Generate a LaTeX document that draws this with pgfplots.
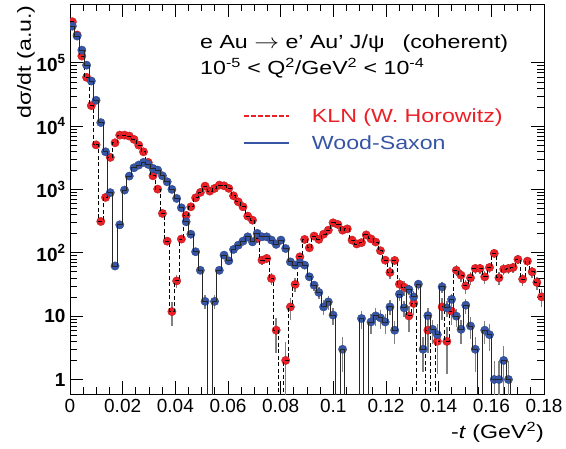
\documentclass[border=0pt]{standalone}
\usepackage{fontspec}
\setmainfont{Liberation Sans}
\newfontfamily\widefont[FakeStretch=1.22]{Liberation Sans}
\usepackage{pgfplots}
\pgfplotsset{compat=1.18}
\usepackage{pgfplotstable}
\definecolor{klnred}{RGB}{235,32,38}
\definecolor{wsblue}{RGB}{55,85,165}
\newcommand{\fs}{\fontsize{19bp}{22bp}\selectfont}
\newcommand{\wfs}{\widefont\fontsize{19bp}{22bp}\selectfont}

% bin index i: bin from 0.0018*i to 0.0018*(i+1); row i=100 closes the step line
% y = bin content (0.001 = empty bin, below the axis), e = error bar half length
\pgfplotstableread{
i y e
0 4.46e5 0
1 2.75e5 0
2 1.28e5 0
3 5.9e4 0
4 2.11e4 0
5 5070 0
6 313 24.8
7 750 0
8 3214 0
9 5470 0
10 7230 0
11 7230 0
12 6980 0
13 6185 0
14 5025 0
15 3940 0
16 2680 0
17 1646 0
18 1015 0
19 419 0
20 153 17.4
21 11.8 4.8
22 36 8.4
23 165 17.9
24 391 0
25 533 0
26 739 0
27 900 0
28 1132 0
29 944 0
30 1041 0
31 1174 0
32 1144 0
33 1041 0
34 795 0
35 639 0
36 533 0
37 380 27.3
38 328 25.3
39 168 18.2
40 76.7 12.3
41 81.6 12.6
42 39.4 8.8
43 6.0 3.4
44 0.001 0
45 2.0 1.98
46 14.0 5.2
47 31.7 7.8
48 86.5 13
49 163 17.9
50 120 15.4
51 184 19
52 163 17.9
53 197 19.6
54 228 21.1
55 298 24.2
56 281 23.5
57 228 21.1
58 239 21.7
59 159 17.6
60 138 16.4
61 145 16.8
62 192 19.5
63 166 18
64 148 17.1
65 108 14.6
66 76.7 12.3
67 49 9.8
68 75.8 12.2
69 32 8
70 28.7 7.6
71 10.1 4.5
72 15.9 5.6
73 0.001 0
74 0.001 0
75 6.0 3.4
76 0.001 0
77 4.0 2.8
78 14.0 5.2
79 4.0 2.8
80 12.0 4.8
81 53 10.2
82 44.4 9.4
83 30.1 7.7
84 40.3 8.8
85 56.7 10.5
86 56.7 10.5
87 41.8 9.1
88 58.8 10.8
89 98 13.9
90 40.3 8.8
91 55.3 10.4
92 56.7 10.5
93 58.8 10.8
94 78.7 12.5
95 38.4 8.7
96 74 12
97 50.1 9.9
98 34.1 8.1
99 20.2 6.3
100 20.2 0
}\kln

\pgfplotstableread{
i y e
0 3.8e5 0
1 2.65e5 0
2 1.59e5 0
3 9.2e4 0
4 5.16e4 0
5 2.56e4 0
6 1.14e4 0
7 3940 0
8 893 0
9 62 7.9
10 277 16.6
11 979 0
12 1629 0
13 2202 0
14 2430 0
15 2680 0
16 2494 0
17 2155 0
18 2026 0
19 1646 0
20 1324 0
21 1004 0
22 723 0
23 514 0
24 309 17.6
25 197 14
26 104 10.2
27 53 7.3
28 17.1 4.1
29 0.001 0
30 17.1 4.1
31 53 7.3
32 92 9.6
33 74.8 8.6
34 113 10.6
35 132 11.5
36 153 12.4
37 179 13.4
38 149 12.2
39 203 14.2
40 179 13.4
41 179 13.4
42 159 12.6
43 136 11.7
44 159 12.6
45 117 10.8
46 72 8.5
47 64 8
48 69.5 8.3
49 64 8
50 41.8 6.5
51 30.9 5.6
52 23.7 4.9
53 14.0 3.7
54 16.8 4.1
55 10.4 3.2
56 0.001 0
57 3.0 1.7
58 0.001 0
59 0.001 0
60 0.001 0
61 9.2 3
62 0.001 0
63 8.1 2.8
64 10.1 3.2
65 9.4 3.1
66 8.1 2.8
67 14.0 3.7
68 6.0 2.4
69 22.3 4.7
70 13.5 3.7
71 26.4 5.1
72 20.2 4.5
73 32 5.7
74 3.0 1.7
75 10.2 3.2
76 6.2 2.5
77 5.1 2.3
78 29 5.4
79 13.5 3.7
80 18.4 4.3
81 10 3.2
82 6.2 2.5
83 14.9 3.9
84 7.0 2.6
85 3.0 1.7
86 0.001 0
87 6.0 2.4
88 5.1 2.3
89 1 0.99
90 1 0.99
91 2 1.4
92 1 0.99
93 0.001 0
94 0.001 0
95 0.001 0
96 0.001 0
97 0.001 0
98 0.001 0
99 0.001 0
100 0.001 0
}\ws

\begin{document}
\begin{tikzpicture}
\begin{axis}[
  scale only axis, width=474bp, height=390bp,
  xmin=0, xmax=0.18, ymode=log, ymin=0.59, ymax=8.5e5,
  clip marker paths=true,
  axis line style={line width=0.9bp},
  tick align=inside,
  tick style={line width=0.8bp, black},
  major tick length=13bp, minor tick length=7bp,
  xtick={0,0.02,0.04,0.06,0.08,0.1,0.12,0.14,0.16,0.18},
  xticklabels={0,0.02,0.04,0.06,0.08,0.1,0.12,0.14,0.16,0.18},
  minor x tick num=3,
  ytick={1,10,100,1000,10000,100000},
  yticklabels={\textbf{1},\textbf{10},\textbf{10\textsuperscript{2}},\textbf{10\textsuperscript{3}},\textbf{10\textsuperscript{4}},\textbf{10\textsuperscript{5}}},
  ticklabel style={font=\fs},
  xticklabel style={yshift=-2bp},
  yticklabel style={xshift=-1bp},
  xlabel={-\textit{t} (GeV\textsuperscript{2})},
  xlabel style={font=\wfs, at={(rel axis cs:1,0)}, anchor=north east, yshift=-28bp, inner sep=0pt},
  ylabel={dσ/dt (a.u.)},
  ylabel style={font=\wfs, at={(rel axis cs:-0.0738,0.997)}, anchor=south east, inner sep=0pt},
  legend style={draw=none, fill=none, at={(rel axis cs:0.3654,0.738)}, anchor=north west, font=\wfs, row sep=8bp, inner sep=0pt,
     /tikz/every even column/.append style={column sep=0bp}},
  legend cell align=left,
  legend image code/.code={\draw[#1] (0bp,0bp) -- (45bp,0bp);},
]
\addlegendimage{klnred, dash pattern=on 4.5bp off 2.5bp, line width=1.3bp}
\addlegendentry{\hspace{20bp}\textcolor{klnred}{KLN (W. Horowitz)}}
\addlegendimage{wsblue, line width=1.6bp}
\addlegendentry{\hspace{20bp}\textcolor{wsblue}{Wood-Saxon}}

\addplot[only marks, mark=*, mark size=4.2bp, mark options={fill=klnred, draw=klnred!75!black, line width=0.3bp},
  restrict y to domain=-3:20, restrict x to domain=0:0.18, forget plot,
  error bars/.cd, y dir=both, y explicit, error mark=none, error bar style={black!50, line width=1.4bp}]
  table[x expr=\thisrow{i}*0.0018+0.0009, y=y, y error=e] {\kln};
\addplot[const plot mark left, no marks, black, line width=0.9bp, dash pattern=on 4bp off 2.5bp, forget plot]
  table[x expr=\thisrow{i}*0.0018, y=y] {\kln};

\addplot[only marks, mark=*, mark size=4.2bp, mark options={fill=wsblue, draw=wsblue!75!black, line width=0.3bp},
  restrict y to domain=-3:20, restrict x to domain=0:0.18, forget plot,
  error bars/.cd, y dir=both, y explicit, error mark=none, error bar style={black!50, line width=1.4bp}]
  table[x expr=\thisrow{i}*0.0018+0.0009, y=y, y error=e] {\ws};
\addplot[const plot mark left, no marks, black!85, line width=0.9bp, forget plot]
  table[x expr=\thisrow{i}*0.0018, y=y] {\ws};

\node[anchor=base west, font=\wfs, inner sep=0pt] at (rel axis cs:0.2743,0.8864) {e Au \scalebox{1.2}[1]{$\rightarrow$} e’ Au’ J/ψ\hspace{18bp}(coherent)};
\node[anchor=base west, font=\wfs, inner sep=0pt] at (rel axis cs:0.2743,0.818) {10\textsuperscript{-5} < Q\textsuperscript{2}/GeV\textsuperscript{2} < 10\textsuperscript{-4}};
\end{axis}
\pgfresetboundingbox
\path[use as bounding box] ([shift={(-70bp,-55bp)}]current axis.south west) rectangle ([shift={(22bp,4bp)}]current axis.north east);
\end{tikzpicture}
\end{document}
